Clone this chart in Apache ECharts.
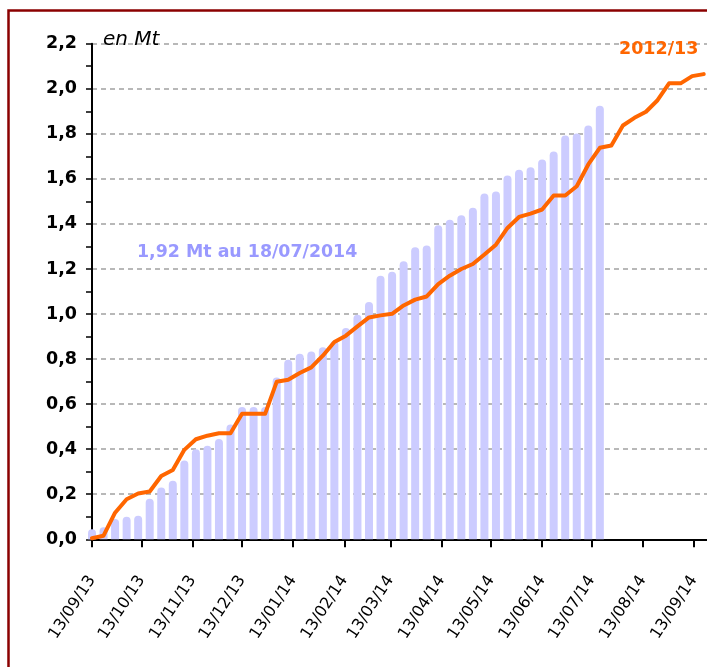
<!DOCTYPE html>
<html><head><meta charset="utf-8">
<script src="https://cdn.jsdelivr.net/npm/echarts@6/dist/echarts.min.js"></script>
<style>html,body{margin:0;padding:0;background:#fff;} #c{width:707px;height:667px;}</style>
</head><body><div id="c"></div>
<script>
// 2013/14 campaign, weekly cumulative (Mt)
const barDates = ['2013-09-13','2013-09-20','2013-09-27','2013-10-04','2013-10-11','2013-10-18','2013-10-25','2013-11-01','2013-11-08','2013-11-15','2013-11-22','2013-11-29','2013-12-06','2013-12-13','2013-12-20','2013-12-27','2014-01-03','2014-01-10','2014-01-17','2014-01-24','2014-01-31','2014-02-07','2014-02-14','2014-02-21','2014-02-28','2014-03-07','2014-03-14','2014-03-21','2014-03-28','2014-04-04','2014-04-11','2014-04-18','2014-04-25','2014-05-02','2014-05-09','2014-05-16','2014-05-23','2014-05-30','2014-06-06','2014-06-13','2014-06-20','2014-06-27','2014-07-04','2014-07-11','2014-07-18'];
const barValues = [0.045,0.053,0.09,0.10,0.105,0.18,0.23,0.26,0.35,0.40,0.415,0.445,0.51,0.587,0.587,0.587,0.718,0.797,0.824,0.834,0.852,0.881,0.938,0.997,1.053,1.170,1.188,1.234,1.296,1.304,1.394,1.419,1.438,1.472,1.535,1.544,1.615,1.641,1.652,1.686,1.721,1.792,1.801,1.837,1.925];
// 2012/13 campaign, plotted on the same weekly calendar
const lineDates = barDates.concat(['2014-07-25','2014-08-01','2014-08-08','2014-08-15','2014-08-22','2014-08-29','2014-09-05','2014-09-12','2014-09-19']);
const lineValues = [0.005,0.016,0.118,0.178,0.203,0.212,0.281,0.308,0.397,0.444,0.46,0.471,0.471,0.557,0.557,0.557,0.699,0.708,0.738,0.763,0.815,0.876,0.904,0.945,0.985,0.994,1.001,1.038,1.064,1.078,1.133,1.170,1.2,1.222,1.264,1.308,1.382,1.431,1.446,1.464,1.526,1.526,1.567,1.664,1.738,1.748,1.837,1.871,1.898,1.949,2.024,2.024,2.056,2.065];
const xTickDates = ['2013-09-13','2013-10-13','2013-11-13','2013-12-13','2014-01-13','2014-02-13','2014-03-13','2014-04-13','2014-05-13','2014-06-13','2014-07-13','2014-08-13','2014-09-13'];
const xMin = '2013-09-13', xMax = '2014-09-21';
const unitLabel = 'en Mt';
const seriesLabel = '2012/13';
const noteLabel = '1,92 Mt au 18/07/2014';

function ts(s){const p=s.split('-');return Date.UTC(+p[0],+p[1]-1,+p[2]);}
function pad(n){return (n<10?'0':'')+n;}
const chart = echarts.init(document.getElementById('c'), null, {renderer:'canvas'});
const tickTs = xTickDates.map(ts);
const option = {
  animation:false,
  backgroundColor:'#fff',
  grid:{left:92, right:0, top:43.7, bottom:127.7},
  xAxis:{
    type:'value', min:ts(xMin), max:ts(xMax),
    axisLine:{show:true, onZero:false, lineStyle:{color:'#000', width:2}},
    axisTick:{show:true, customValues:tickTs, length:8, lineStyle:{color:'#000', width:2}},
    axisLabel:{show:true, customValues:tickTs, rotate:57, margin:38,
      formatter:function(v){const d=new Date(v);return pad(d.getUTCDate())+'/'+pad(d.getUTCMonth()+1)+'/'+pad(d.getUTCFullYear()%100);},
      fontFamily:'DejaVu Sans', fontSize:16, color:'#000'},
    splitLine:{show:false}, minorTick:{show:false}
  },
  yAxis:{
    type:'value', min:0, max:2.2, interval:0.2,
    axisLine:{show:true, lineStyle:{color:'#000', width:2}},
    axisTick:{show:true, length:6, lineStyle:{color:'#000', width:1.5}},
    minorTick:{show:true, splitNumber:2, length:6, lineStyle:{color:'#000', width:1.5}},
    axisLabel:{formatter:function(v){return v.toFixed(1).replace('.',',');}, fontFamily:'DejaVu Sans', fontWeight:'bold', fontSize:17.5, color:'#000', margin:15},
    splitLine:{show:true, lineStyle:{color:'#b8b8b8', width:2, type:[5,4]}}
  },
  series:[
    {type:'bar', data:barDates.map((d,i)=>[ts(d), barValues[i]]), barWidth:8, clip:false,
     itemStyle:{color:'#ccccff', borderRadius:[4,4,0,0]}, z:2},
    {type:'line', data:lineDates.map((d,i)=>[ts(d), lineValues[i]]), symbol:'none', showSymbol:false,
     lineStyle:{color:'#ff6600', width:4, cap:'round', join:'round'}, z:3}
  ],
  graphic:[
    {type:'rect', shape:{x:8.5, y:10.5, width:800, height:800}, style:{fill:'none', stroke:'#8b0000', lineWidth:2.5}, z:100, silent:true},
    {type:'text', x:103, y:39.5, style:{text:unitLabel, font:'italic 20px "DejaVu Sans"', fill:'#000', textAlign:'left', textVerticalAlign:'middle'}, z:100},
    {type:'text', x:619, y:49.7, style:{text:seriesLabel, font:'bold 17.5px "DejaVu Sans"', fill:'#ff6600', textAlign:'left', textVerticalAlign:'middle'}, z:100},
    {type:'text', x:137, y:252, style:{text:noteLabel, font:'bold 17.4px "DejaVu Sans"', fill:'#9999ff', textAlign:'left', textVerticalAlign:'middle'}, z:100}
  ]
};
chart.setOption(option);
</script>
</body></html>
